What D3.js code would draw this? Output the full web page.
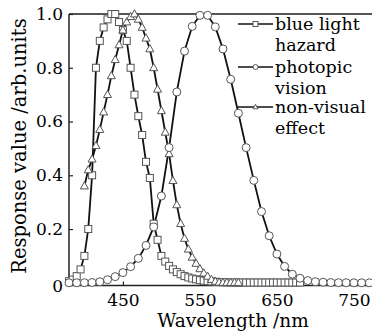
<!DOCTYPE html>
<html>
<head>
<meta charset="utf-8">
<script src="https://cdn.jsdelivr.net/npm/d3@7"></script>
<style>
  body { margin: 0; background: #fff; }
  svg { display: block; }
  text { font-family: "DejaVu Serif", serif; fill: #000; }
</style>
</head>
<body>
<div id="chart-area"></div>
<script>
// blue light hazard (squares), 5 nm steps
var blueWl = [380, 385, 390, 395, 400, 405, 410, 415, 420, 425, 430, 435, 440, 445, 450, 455, 460, 465, 470, 475,
  480, 485, 490, 495, 500, 505, 510, 515, 520, 525, 530, 535, 540, 545, 550, 555, 560, 565, 570, 575,
  580, 585, 590, 595, 600, 605, 610, 615, 620, 625, 630, 635, 640, 645, 650, 655, 660, 665, 670, 675, 680];
var blueVal = [0.006, 0.012, 0.025, 0.05, 0.10, 0.20, 0.40, 0.80, 0.90, 0.95, 0.98, 1.0, 1.0, 0.97, 0.94, 0.90, 0.80, 0.70, 0.62, 0.55,
  0.45, 0.39, 0.22, 0.16, 0.10, 0.079, 0.063, 0.05, 0.04, 0.032, 0.025, 0.02, 0.016, 0.013, 0.01, 0.008, 0.006, 0.005, 0.004, 0.003,
  0.002, 0.002, 0.001, 0.001, 0.001, 0.001, 0.001, 0.001, 0.001, 0.001, 0.001, 0.001, 0.001, 0.001, 0.001, 0.001, 0.001, 0.001, 0.001, 0.001, 0.001];

// photopic vision (circles), 10 nm steps
var photWl = [380, 390, 400, 410, 420, 430, 440, 450, 460, 470, 480, 490, 500, 510, 520, 530, 540, 550, 560, 570,
  580, 590, 600, 610, 620, 630, 640, 650, 660, 670, 680, 690, 700, 710, 720, 730, 740, 750, 760, 770, 780];
var photVal = [0.0001, 0.0002, 0.0004, 0.0012, 0.004, 0.0116, 0.023, 0.038, 0.06, 0.091, 0.139, 0.208, 0.323, 0.503, 0.71, 0.862, 0.954, 0.995, 0.995, 0.952,
  0.87, 0.757, 0.631, 0.503, 0.381, 0.265, 0.175, 0.107, 0.061, 0.032, 0.017, 0.0082, 0.0041, 0.0021, 0.001, 0.0005, 0.0003, 0.0001, 0.0001, 0.0001, 0.0001];

// non-visual effect (triangles), 5 nm steps
var nonWl = [400, 405, 410, 415, 420, 425, 430, 435, 440, 445, 450, 455, 460, 465, 470, 475, 480, 485, 490, 495,
  500, 505, 510, 515, 520, 525, 530, 535, 540, 545, 550, 555, 560, 565, 570, 575, 580, 585, 590, 595, 600];
var nonVal = [0.36, 0.42, 0.46, 0.51, 0.57, 0.635, 0.70, 0.77, 0.83, 0.885, 0.94, 0.97, 0.99, 1.0, 0.98, 0.95, 0.91, 0.87, 0.80, 0.72,
  0.64, 0.56, 0.48, 0.38, 0.29, 0.22, 0.165, 0.125, 0.095, 0.072, 0.052, 0.036, 0.024, 0.012, 0.005, 0.002, 0.001, 0.001, 0.001, 0.001, 0.001];

var xTicks = [450, 550, 650, 750];
var yTicks = [0, 0.2, 0.4, 0.6, 0.8, 1.0];
var legendNames = [["blue light", "hazard"], ["photopic", "vision"], ["non-visual", "effect"]];

var W = 372, H = 334;
var padL = 69, padT = 14, axisY = 285.5, plotR = 377;

var svg = d3.select("#chart-area").append("svg")
    .attr("width", W)
    .attr("height", H);

var x = d3.scaleLinear().domain([380, 780]).range([padL, plotR]);
var y = d3.scaleLinear().domain([-0.01, 1]).range([axisY, padT]);

// frame top line
svg.append("line").attr("x1", padL).attr("x2", W + 5).attr("y1", padT).attr("y2", padT)
    .attr("stroke", "#555").attr("stroke-width", 2);

// axes with inward ticks
var xAxis = d3.axisBottom(x).tickValues(xTicks).tickSize(-4).tickPadding(8).tickFormat(d3.format("d"));
var xG = svg.append("g").attr("transform", "translate(0," + axisY + ")").call(xAxis);
xG.select(".domain").attr("stroke", "#222").attr("stroke-width", 1.5).attr("d", "M" + padL + ",0H" + (W + 5));
xG.selectAll(".tick line").attr("stroke", "#222").attr("stroke-width", 1.2);
xG.selectAll(".tick text").attr("font-size", 17).attr("font-family", "DejaVu Serif").attr("fill", "#000").attr("dy", "0.76em");

var yAxis = d3.axisLeft(y).tickValues(yTicks).tickSize(-4).tickPadding(6)
    .tickFormat(function (d) { return d === 0 ? "0" : d3.format(".1f")(d); });
var yG = svg.append("g").attr("transform", "translate(" + padL + ",0)").call(yAxis);
yG.select(".domain").attr("stroke", "#222").attr("stroke-width", 1.5).attr("d", "M0," + padT + "V" + axisY);
yG.selectAll(".tick line").attr("stroke", "#222").attr("stroke-width", 1.2);
yG.selectAll(".tick text").attr("font-size", 17).attr("font-family", "DejaVu Serif").attr("fill", "#000");
var zeroTick = yG.selectAll(".tick").filter(function (d) { return d === 0; });
zeroTick.select("line").remove();
zeroTick.select("text").attr("y", 3);

// axis titles
svg.append("text").attr("x", 233).attr("y", 327).attr("text-anchor", "middle")
    .attr("font-size", 18.5).text("Wavelength /nm");
svg.append("text").attr("transform", "translate(26,146) rotate(-90)").attr("text-anchor", "middle")
    .attr("font-size", 19.5).text("Response value /arb.units");

var line = d3.line().x(function (d) { return x(d[0]); }).y(function (d) { return y(d[1]); });

function pairs(wl, val) { return wl.map(function (w, i) { return [w, val[i]]; }); }

var blueData = pairs(blueWl, blueVal);
var photData = pairs(photWl, photVal);
var nonData = pairs(nonWl, nonVal);

var plot = svg.append("g");

function drawMarker(sel, shape, size) {
  if (shape === "square") {
    sel.append("rect").attr("x", -size / 2).attr("y", -size / 2).attr("width", size).attr("height", size);
  } else if (shape === "circle") {
    sel.append("circle").attr("r", size / 2);
  } else {
    var h = size * 0.9;
    sel.append("path").attr("d", "M0," + (-h * 0.6) + "L" + (size / 2) + "," + (h * 0.4) + "L" + (-size / 2) + "," + (h * 0.4) + "Z");
  }
  sel.selectAll("rect,circle,path").attr("fill", "#fff").attr("stroke", "#555").attr("stroke-width", 1);
}

var series = [
  { data: blueData, shape: "square", size: 7 },
  { data: nonData, shape: "triangle", size: 8 },
  { data: photData, shape: "circle", size: 8 }
];

series.forEach(function (s) {
  plot.append("path").datum(s.data).attr("d", line)
      .attr("fill", "none").attr("stroke", "#111").attr("stroke-width", 1.8);
});
series.forEach(function (s) {
  plot.selectAll(null).data(s.data).enter().append("g")
      .attr("transform", function (d) { return "translate(" + x(d[0]) + "," + y(d[1]) + ")"; })
      .each(function () { drawMarker(d3.select(this), s.shape, s.size); });
});

// legend
var legendShapes = ["square", "circle", "triangle"];
var legendY = [24, 67, 107];
legendNames.forEach(function (names, i) {
  var g = svg.append("g").attr("transform", "translate(0," + legendY[i] + ")");
  g.append("line").attr("x1", 238).attr("x2", 273).attr("y1", 0).attr("y2", 0)
      .attr("stroke", "#111").attr("stroke-width", 1.5);
  var m = g.append("g").attr("transform", "translate(255.5,0)");
  drawMarker(m, legendShapes[i], 5);
  names.forEach(function (t, j) {
    g.append("text").attr("x", 275).attr("y", j * 20.5).attr("dy", "0.35em")
        .attr("font-size", 17.5).text(t);
  });
});
</script>
</body>
</html>
